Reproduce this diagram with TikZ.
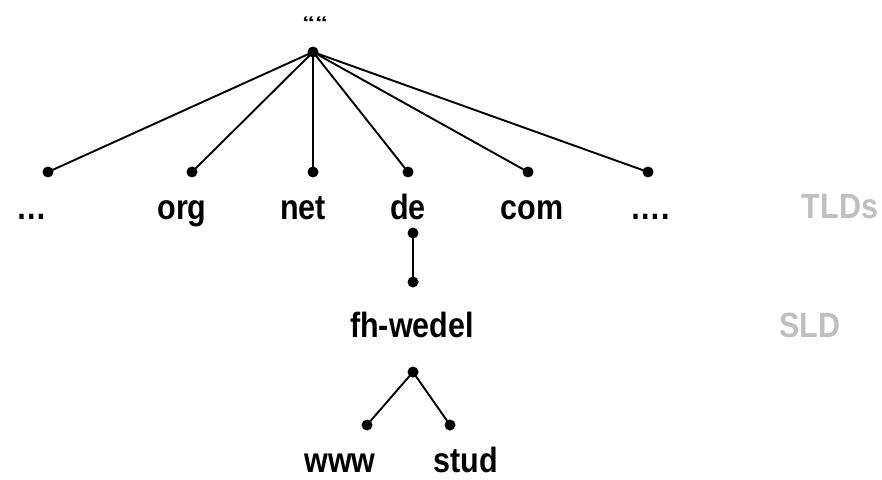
\documentclass[tikz,border=0pt]{standalone}
\usepackage{graphicx}
\usepackage{fontspec}
\setmainfont{Liberation Sans}
\definecolor{lbl}{RGB}{191,191,191}
\newcommand\vstretch[1]{\scalebox{1}[1.15]{#1}}
\begin{document}
\begin{tikzpicture}[x=1pt,y=-1pt,
  dot/.style={circle,fill=black,inner sep=0pt,minimum size=11pt},
  lab/.style={font=\fontsize{30.5}{30.5}\selectfont\bfseries,anchor=base,inner sep=0pt},
  side/.style={lab,text=lbl},
  edge/.style={line width=1.9pt}]
\useasboundingbox (0,0) rectangle (882,479);
\node[font=\fontsize{26}{26}\selectfont\bfseries,anchor=base,inner sep=0pt] (q) at (315,28) {\scalebox{1}[0.65]{““}};
\node[dot] (r) at (313,52) {};
\node[dot] (t1) at (48,172) {};
\node[dot] (t2) at (192,172) {};
\node[dot] (t3) at (313,172) {};
\node[dot] (t4) at (408,172) {};
\node[dot] (t5) at (528,172) {};
\node[dot] (t6) at (648,172) {};
\node[lab] (l1) at (32,219) {\vstretch{…}};
\node[lab] (l2) at (182,219) {\vstretch{org}};
\node[lab] (l3) at (303,219) {\vstretch{net}};
\node[lab] (l4) at (408,219) {\vstretch{de}};
\node[lab] (l5) at (532,219) {\vstretch{com}};
\node[lab] (l6) at (650,219) {\vstretch{….}};
\node[side] (tld) at (840,218) {\vstretch{TLDs}};
\node[dot] (d1) at (413,233) {};
\node[dot] (d2) at (413,282) {};
\node[lab] (fh) at (412,337) {\vstretch{fh-wedel}};
\node[side] (sld) at (810,337) {\vstretch{SLD}};
\node[dot] (f1) at (413,372) {};
\node[dot] (w1) at (367,425) {};
\node[dot] (s1) at (450,425) {};
\node[lab] (www) at (340,472) {\vstretch{www}};
\node[lab] (stud) at (466,472) {\vstretch{stud}};
\foreach \t in {t1,t2,t3,t4,t5,t6} \draw[edge] (r.center) -- (\t.center);
\draw[edge] (d1.center) -- (d2.center);
\draw[edge] (f1.center) -- (w1.center);
\draw[edge] (f1.center) -- (s1.center);
\end{tikzpicture}
\end{document}
